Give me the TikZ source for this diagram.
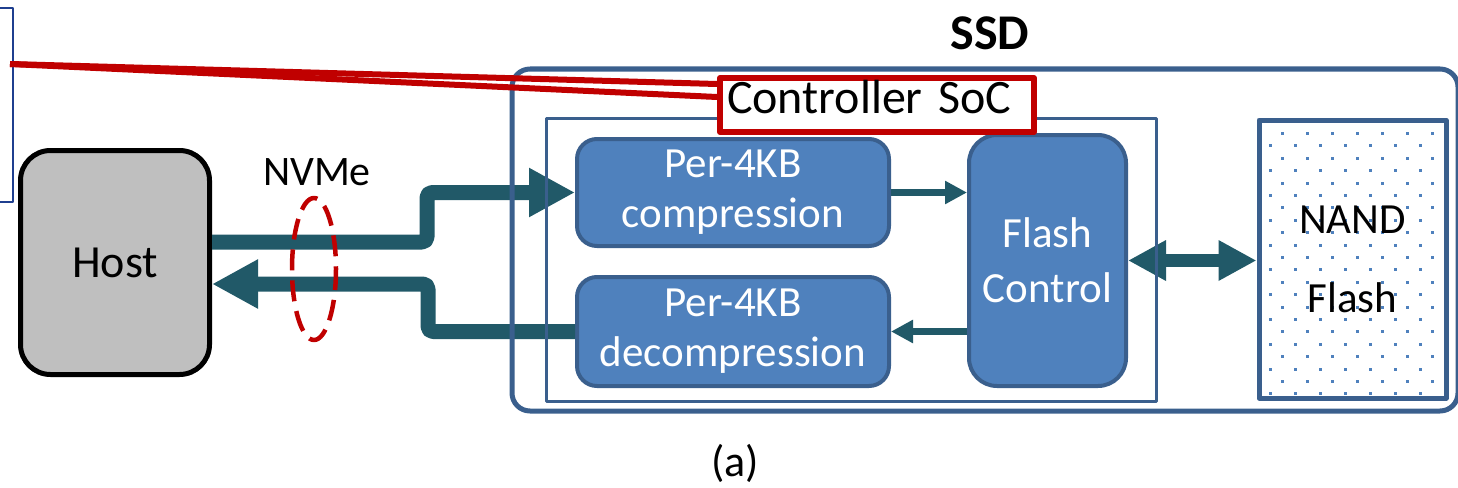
\documentclass[tikz,border=0pt]{standalone}
\usepackage{fontspec}
\setmainfont{Carlito}
\usetikzlibrary{arrows.meta}

\definecolor{boxfill}{HTML}{4F81BD}
\definecolor{boxline}{HTML}{3A5F8D}
\definecolor{pipe}{HTML}{215968}
\definecolor{hilite}{HTML}{C00000}
\definecolor{hostgray}{HTML}{BFBFBF}
\definecolor{navy}{HTML}{1F3F8F}

\begin{document}
\begin{tikzpicture}[x=1pt, y=-1pt, line join=round,
  blk/.style={draw=boxline, fill=boxfill, line width=4pt, rounded corners=20pt,
    text=white, align=center, inner sep=0pt, font=\fontsize{43}{50}\selectfont},
  bigpipe/.style={draw=pipe, line width=15pt, rounded corners=5pt,
    -{Triangle[length=46pt,width=46pt]}},
  smallpipe/.style={draw=pipe, line width=7pt, -{Triangle[length=22pt,width=22pt]}},
  duplex/.style={draw=pipe, line width=13pt,
    {Triangle[length=38pt,width=38pt]}-{Triangle[length=38pt,width=38pt]}},
  frame/.style={draw=boxline, inner sep=0pt}]

  %% ════ 左侧残留框 ════
  \draw[navy, line width=1.5pt] (0,8) -- (13,8) -- (13,202) -- (0,202);

  %% ════ NAND 点阵（先画，框在上）════
  \begin{scope}
    \clip (1259,120) rectangle (1446,398);
    \foreach \r in {0,...,22} {
      \pgfmathsetmacro\yy{121+12.4*\r}
      \pgfmathsetmacro\xo{mod(\r,2)*12.5}
      \foreach \c in {0,...,7}
        \fill[boxfill] (1268.5+\xo+25*\c, \yy-1.5) rectangle ++(3,3);
    }
  \end{scope}

  %% ════ 方块 ════
  \node[draw=black, fill=hostgray, line width=5pt, rounded corners=30pt, inner sep=0pt,
        minimum width=189pt, minimum height=224pt, font=\fontsize{46}{55}\selectfont]
        (host) at (115,262.5) {Host};
  \node[blk, minimum width=312pt, minimum height=107pt] (comp) at (733,192.5) {Per-4KB\\compression};
  \node[blk, minimum width=312pt, minimum height=109pt] (decomp) at (733,331.5) {Per-4KB\\decompression};
  \node[blk, rounded corners=28pt, minimum width=157pt, minimum height=251pt,
        font=\fontsize{43}{55}\selectfont] (flash) at (1047.5,260.5) {Flash\\Control};
  \node[frame, line width=5pt, minimum width=187pt, minimum height=278pt, align=center,
        font=\fontsize{43}{79}\selectfont] (nand) at (1352.5,259) {NAND\\Flash};

  %% ════ 连线 ════
  \draw[bigpipe] ([yshift=20.5pt]host.east) -- ++(215,0) |- (comp.west);
  \draw[bigpipe] (decomp.west) -- ++(-147,0) |- ([yshift=-21.5pt]host.east);
  \draw[smallpipe] (comp.east) -- (comp.east -| flash.west);
  \draw[smallpipe] (flash.west |- decomp.east) -- (decomp.east);
  \draw[duplex] (flash.east) -- (flash.east -| nand.west);

  %% ════ SSD 外框 / SoC 内框（压在粗箭头上）════
  \node[frame, line width=5pt, rounded corners=18pt, minimum width=946pt, minimum height=342pt]
        (ssd) at (985,240) {};
  \node[frame, line width=3pt, minimum width=610pt, minimum height=283pt] (socbox) at (851,259.5) {};
  \node[font=\fontsize{50}{60}\selectfont\bfseries] (ssdname) at (990,33) {SSD};

  %% ════ 红色放大框 ════
  \coordinate (zoomsrc) at (10,64);
  \node[draw=hilite, line width=6pt, fill=white, inner xsep=7pt, inner ysep=0pt,
        text width=300pt, align=left, text height=30pt, text depth=14pt, minimum height=54pt,
        font=\fontsize{48}{58}\selectfont] (soc) at (877,105) {Controller SoC};
  \draw[hilite, line width=6pt] (zoomsrc) -- ([yshift=21pt]soc.west);
  \draw[hilite, line width=6pt] (zoomsrc) -- ([yshift=8pt]soc.west);

  %% ════ NVMe ════
  \node[font=\fontsize{42}{50}\selectfont] (nvme) at (317,172) {NVMe};
  \draw[hilite, line width=4.5pt, dash pattern=on 21pt off 10pt] (314,269) ellipse [x radius=22, y radius=71];

  \node[font=\fontsize{44}{52}\selectfont] (cap) at (735,463) {(a)};

  % 钉死画布
  \pgfresetboundingbox
  \path[use as bounding box] (0,0) rectangle (1458,487);
\end{tikzpicture}
\end{document}
